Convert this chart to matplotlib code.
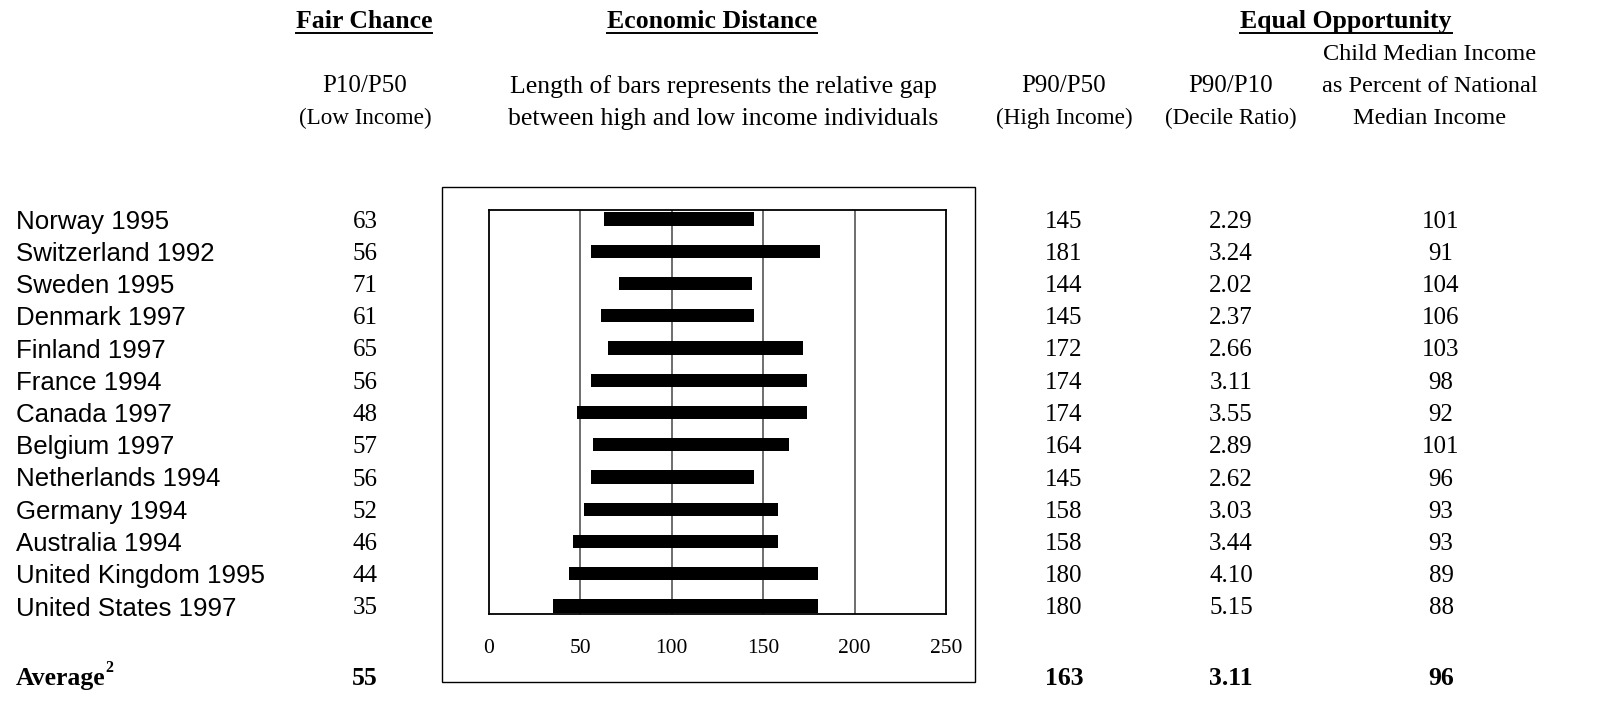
import matplotlib
matplotlib.use("Agg")
import matplotlib.pyplot as plt
from matplotlib.patches import Rectangle
from matplotlib.lines import Line2D

W, H = 1604, 708

countries = ["Norway 1995", "Switzerland 1992", "Sweden 1995", "Denmark 1997",
             "Finland 1997", "France 1994", "Canada 1997", "Belgium 1997",
             "Netherlands 1994", "Germany 1994", "Australia 1994",
             "United Kingdom 1995", "United States 1997"]
p10_p50 = [63, 56, 71, 61, 65, 56, 48, 57, 56, 52, 46, 44, 35]
p90_p50 = [145, 181, 144, 145, 172, 174, 174, 164, 145, 158, 158, 180, 180]
p90_p10 = ["2.29", "3.24", "2.02", "2.37", "2.66", "3.11", "3.55", "2.89",
           "2.62", "3.03", "3.44", "4.10", "5.15"]
child_median = [101, 91, 104, 106, 103, 98, 92, 101, 96, 93, 93, 89, 88]
avg_label = "Average"
avg_p10_p50 = 55
avg_p90_p50 = 163
avg_p90_p10 = "3.11"
avg_child = 96
xticks = [0, 50, 100, 150, 200, 250]

SERIF = "Liberation Serif"
SANS = "Liberation Sans"


def fx(x):
    return x / W


def fy(y):
    return 1 - y / H


fig = plt.figure(figsize=(W / 100, H / 100), dpi=100)
fig.patch.set_facecolor("white")

# outer frame
fig.add_artist(Rectangle((fx(442), fy(682)), (975 - 442) / W, (682 - 187) / H,
                         transform=fig.transFigure, fill=False, lw=1.0,
                         edgecolor="black"))

# inner axes
ax = fig.add_axes([fx(489), fy(614), (946 - 489) / W, (614 - 210) / H])
n = len(countries)
rows = list(range(n))
ax.set_xlim(0, 250)
ax.set_ylim(12.248, -0.279)
for g in [50, 100, 150, 200]:
    ax.axvline(g, color="#555555", lw=1.2, zorder=1)
widths = [b - a for a, b in zip(p10_p50, p90_p50)]
ax.barh(rows, widths, left=p10_p50, height=0.41, color="black", zorder=3)
ax.set_yticks([])
ax.set_xticks(xticks)
ax.set_xticklabels([str(t) for t in xticks], fontfamily=SERIF, fontsize=15.5)
ax.tick_params(axis="x", length=0, pad=18)
for s in ax.spines.values():
    s.set_linewidth(1.3)
    s.set_color("black")

# header texts
headers = []
hdr_size = 18.5
for txt, cx in [("Fair Chance", 364), ("Economic Distance", 712),
                ("Equal Opportunity", 1346)]:
    t = fig.text(fx(cx), fy(28), txt, ha="center", va="baseline",
                 fontfamily=SERIF, fontweight="bold", fontsize=hdr_size)
    headers.append(t)

sub_size = 18
small_size = 16.7
fig.text(fx(365), fy(84), "P10/P50", ha="center", va="center_baseline",
         fontfamily=SERIF, fontsize=sub_size)
fig.text(fx(365), fy(116), "(Low Income)", ha="center", va="center_baseline",
         fontfamily=SERIF, fontsize=small_size)
fig.text(fx(723), fy(84), "Length of bars represents the relative gap",
         ha="center", va="center_baseline", fontfamily=SERIF, fontsize=18.5)
fig.text(fx(723), fy(116), "between high and low income individuals",
         ha="center", va="center_baseline", fontfamily=SERIF, fontsize=18.5)
fig.text(fx(1064), fy(84), "P90/P50", ha="center", va="center_baseline",
         fontfamily=SERIF, fontsize=sub_size)
fig.text(fx(1064), fy(116), "(High Income)", ha="center", va="center_baseline",
         fontfamily=SERIF, fontsize=small_size)
fig.text(fx(1231), fy(84), "P90/P10", ha="center", va="center_baseline",
         fontfamily=SERIF, fontsize=sub_size)
fig.text(fx(1231), fy(116), "(Decile Ratio)", ha="center", va="center_baseline",
         fontfamily=SERIF, fontsize=small_size)
for txt, yy in [("Child Median Income", 52), ("as Percent of National", 84),
                ("Median Income", 116)]:
    fig.text(fx(1430), fy(yy), txt, ha="center", va="center_baseline",
             fontfamily=SERIF, fontsize=17.5)

# rows
row_y0, row_dy = 219, 32.25
num_size = 18
for i in range(n):
    yy = row_y0 + i * row_dy
    fig.text(fx(16), fy(yy), countries[i], ha="left", va="center_baseline",
             fontfamily=SANS, fontsize=18.6)
    fig.text(fx(365), fy(yy), str(p10_p50[i]), ha="center", va="center_baseline",
             fontfamily=SERIF, fontsize=num_size)
    fig.text(fx(1064), fy(yy), str(p90_p50[i]), ha="center", va="center_baseline",
             fontfamily=SERIF, fontsize=num_size)
    fig.text(fx(1231), fy(yy), p90_p10[i], ha="center", va="center_baseline",
             fontfamily=SERIF, fontsize=num_size)
    fig.text(fx(1441), fy(yy), str(child_median[i]), ha="center",
             va="center_baseline", fontfamily=SERIF, fontsize=num_size)

# average row
ya = 676
t_avg = fig.text(fx(16), fy(ya), avg_label, ha="left", va="center_baseline",
                 fontfamily=SERIF, fontweight="bold", fontsize=18.5)
for val, cx in [(avg_p10_p50, 365), (avg_p90_p50, 1064), (avg_p90_p10, 1231),
                (avg_child, 1441)]:
    fig.text(fx(cx), fy(ya), str(val), ha="center", va="center_baseline",
             fontfamily=SERIF, fontweight="bold", fontsize=18.5)

fig.canvas.draw()
r = fig.canvas.get_renderer()
bb = t_avg.get_window_extent(r)
fig.text(bb.x1 / W, fy(666), "2", ha="left", va="center_baseline",
         fontfamily=SERIF, fontweight="bold", fontsize=11.5)

for t in headers:
    b = t.get_window_extent(r)
    fig.add_artist(Line2D([b.x0 / W, b.x1 / W], [fy(32.5), fy(32.5)],
                          transform=fig.transFigure, color="black", lw=1.4))

fig.savefig("out.png", dpi=100, facecolor="white")
